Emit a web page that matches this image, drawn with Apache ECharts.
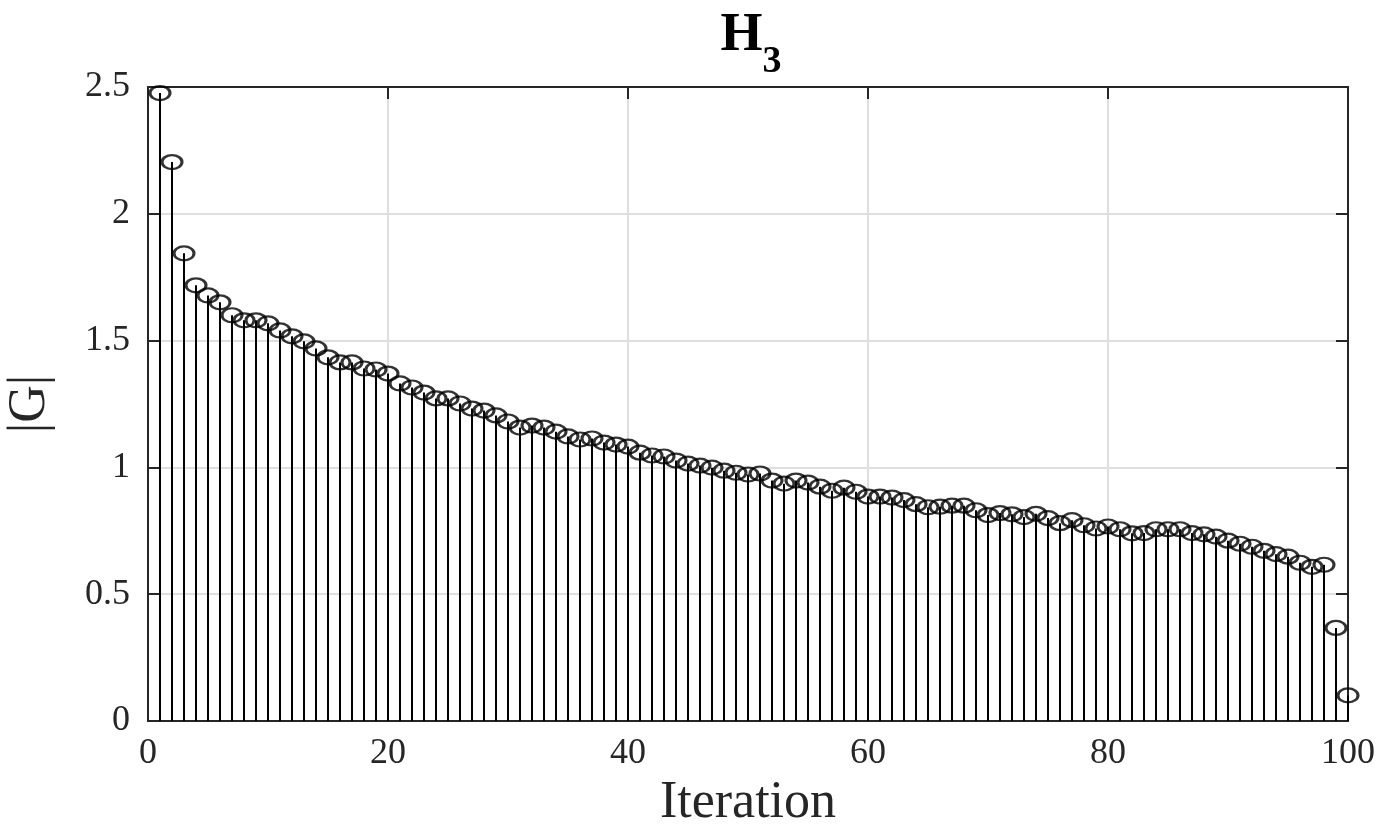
<!DOCTYPE html>
<html>
<head>
<meta charset="utf-8">
<title>H3</title>
<script src="https://cdn.jsdelivr.net/npm/echarts@6/dist/echarts.min.js"></script>
<style>
    html, body { margin: 0; padding: 0; background: #fff; }
    #canvasContainer { width: 1384px; height: 830px; }
</style>
</head>
<body>
<div id="canvasContainer"></div>
<script>
// |G| per iteration
var iterations = [];
for (var i = 1; i <= 100; i++) iterations.push(i);
var gValues = [
    2.476, 2.204, 1.844, 1.718, 1.678, 1.651, 1.600, 1.580, 1.580, 1.568,
    1.540, 1.517, 1.497, 1.469, 1.434, 1.414, 1.414, 1.390, 1.386, 1.370,
    1.331, 1.315, 1.295, 1.272, 1.272, 1.252, 1.232, 1.224, 1.205, 1.181,
    1.157, 1.165, 1.157, 1.141, 1.122, 1.110, 1.114, 1.098, 1.090, 1.082,
    1.058, 1.047, 1.043, 1.027, 1.015, 1.007, 0.999, 0.987, 0.979, 0.972,
    0.976, 0.948, 0.936, 0.948, 0.940, 0.924, 0.908, 0.920, 0.904, 0.885,
    0.885, 0.881, 0.871, 0.855, 0.843, 0.845, 0.849, 0.849, 0.831, 0.812,
    0.820, 0.815, 0.804, 0.817, 0.800, 0.780, 0.792, 0.772, 0.759, 0.767,
    0.756, 0.740, 0.741, 0.756, 0.756, 0.756, 0.741, 0.736, 0.727, 0.711,
    0.699, 0.687, 0.671, 0.658, 0.648, 0.624, 0.608, 0.616, 0.367, 0.101
];
var xTicks = [0, 20, 40, 60, 80, 100];
var yTicks = [0, 0.5, 1, 1.5, 2, 2.5];

var chart = echarts.init(document.getElementById("canvasContainer"));
var points = [];
for (var k = 0; k < iterations.length; k++) {
    points.push([iterations[k], gValues[k]]);
}

var ink = '#262626';
var serif = '"Liberation Serif", "DejaVu Serif", serif';

function frameAxis(extra) {
    var base = {
        type: 'value',
        axisLine: { show: true, onZero: false, lineStyle: { color: ink, width: 2 } },
        axisTick: { show: true, inside: true, length: 12, lineStyle: { color: ink, width: 2 } },
        splitLine: { show: false },
        axisLabel: { show: false }
    };
    for (var p in extra) base[p] = extra[p];
    return base;
}

var option = {
    backgroundColor: '#fff',
    animation: false,
    title: {
        text: '{h|H}{s|3}',
        left: 746,
        top: 4,
        textAlign: 'center',
        textStyle: {
            rich: {
                h: { fontFamily: serif, fontWeight: 'bold', fontSize: 54, color: '#000', verticalAlign: 'top' },
                s: { fontFamily: serif, fontWeight: 'bold', fontSize: 38, color: '#000', padding: [34, 0, 0, 0] }
            }
        }
    },
    grid: {
        left: 148,
        right: 36,
        top: 87,
        bottom: 109,
        containLabel: false,
        outerBoundsMode: 'none'
    },
    xAxis: [
        frameAxis({
            min: xTicks[0], max: xTicks[xTicks.length - 1], interval: 20,
            position: 'bottom',
            name: 'Iteration',
            nameLocation: 'middle',
            nameGap: 56,
            nameTextStyle: { fontFamily: serif, fontSize: 52, color: ink },
            axisLabel: { show: true, fontFamily: serif, fontSize: 36, color: ink, margin: 15 },
            splitLine: { show: true, lineStyle: { color: '#dfdfdf', width: 2 } }
        }),
        frameAxis({ min: xTicks[0], max: xTicks[xTicks.length - 1], interval: 20, position: 'top' })
    ],
    yAxis: [
        frameAxis({
            min: yTicks[0], max: yTicks[yTicks.length - 1], interval: 0.5,
            position: 'left',
            name: '|G|',
            nameLocation: 'middle',
            nameGap: 92,
            nameTextStyle: { fontFamily: serif, fontSize: 52, color: ink },
            axisLabel: { show: true, fontFamily: serif, fontSize: 36, color: ink, margin: 18 },
            splitLine: { show: true, lineStyle: { color: '#dfdfdf', width: 2 } }
        }),
        frameAxis({ min: yTicks[0], max: yTicks[yTicks.length - 1], interval: 0.5, position: 'right' })
    ],
    series: [
        {
            name: 'stem',
            type: 'bar',
            data: points,
            barWidth: 2,
            itemStyle: { color: '#000' },
            silent: true,
            z: 3
        },
        {
            name: '|G|',
            type: 'scatter',
            data: points,
            symbol: 'circle',
            symbolSize: [20, 14],
            itemStyle: { color: 'rgba(0,0,0,0)', borderColor: '#000', borderWidth: 2.6 },
            silent: true,
            z: 4
        }
    ]
};
chart.setOption(option);
</script>
</body>
</html>
